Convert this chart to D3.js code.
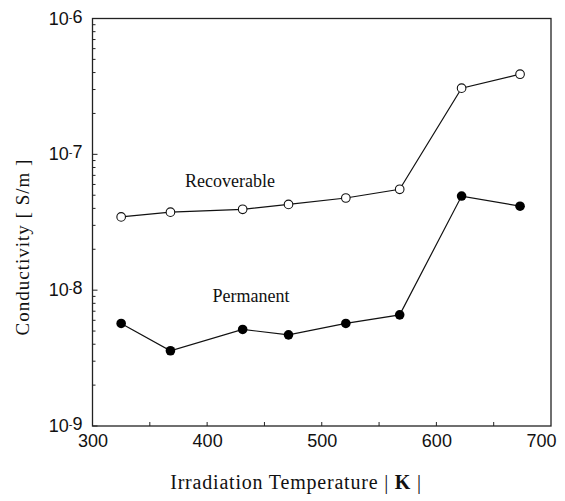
<!DOCTYPE html>
<html>
<head>
<meta charset="utf-8">
<script src="https://cdn.jsdelivr.net/npm/d3@7"></script>
<style>
  html, body { margin: 0; padding: 0; background: #fff; }
  svg { display: block; }
</style>
</head>
<body>
<div id="chart"></div>
<script>
// Irradiation temperature (K)
const temperatures = [325, 368, 431, 471, 521, 568, 622, 673];
// Conductivity (S/m)
const recoverable = [3.46e-8, 3.75e-8, 3.94e-8, 4.28e-8, 4.77e-8, 5.53e-8, 3.07e-7, 3.89e-7];
const permanent   = [5.69e-9, 3.58e-9, 5.14e-9, 4.69e-9, 5.69e-9, 6.58e-9, 4.93e-8, 4.15e-8];
const xTicks = [300, 400, 500, 600, 700];
const yExponents = [-6, -7, -8, -9];
const seriesNames = ["Recoverable", "Permanent"];

const W = 565, H = 501;
const margin = { left: 92.5, right: 14, top: 18.5, bottom: 75 };

const svg = d3.select("#chart").append("svg")
  .attr("width", W).attr("height", H);

const x = d3.scaleLinear().domain([300, 700]).range([margin.left, W - margin.right]);
const y = d3.scaleLog().domain([1e-9, 1e-6]).range([H - margin.bottom, margin.top]);

const x0 = x.range()[0], x1 = x.range()[1];
const y0 = y.range()[0], y1 = y.range()[1];

// Frame
svg.append("rect")
  .attr("x", x0).attr("y", y1)
  .attr("width", x1 - x0).attr("height", y0 - y1)
  .attr("fill", "none").attr("stroke", "#222").attr("stroke-width", 1.3);

// Bottom axis: labels at 100 K, inward ticks every 50 K
const xAxis = svg.append("g").attr("transform", `translate(0,${y0})`)
  .call(d3.axisBottom(x).tickValues(xTicks).tickSize(0).tickPadding(8)
    .tickFormat(d3.format("d")));
xAxis.select(".domain").remove();
xAxis.selectAll("text")
  .attr("font-family", "'Liberation Sans', Arial, sans-serif")
  .attr("font-size", 18).attr("fill", "#111");
// keep the last label inside the page
xAxis.selectAll(".tick").filter(d => d === 700).select("text")
  .attr("text-anchor", "end").attr("dx", 5);

svg.append("g").selectAll("line")
  .data(d3.range(350, 700, 50))
  .join("line")
  .attr("x1", d => x(d)).attr("x2", d => x(d))
  .attr("y1", y0).attr("y2", y0 - 4)
  .attr("stroke", "#222").attr("stroke-width", 1);

// Left axis: decade labels, inward minor ticks
const minor = [];
for (let e = -9; e < -6; e++) {
  for (let m = 1; m <= 9; m++) minor.push(m * Math.pow(10, e));
}
svg.append("g").selectAll("line")
  .data(minor)
  .join("line")
  .attr("x1", x0).attr("x2", d => x0 + (Math.abs(Math.log10(d) - Math.round(Math.log10(d))) < 1e-9 ? 5 : 3))
  .attr("y1", d => y(d)).attr("y2", d => y(d))
  .attr("stroke", "#222").attr("stroke-width", 1);

const yLab = svg.append("g")
  .attr("font-family", "'Liberation Sans', Arial, sans-serif")
  .attr("fill", "#111");
yExponents.forEach(e => {
  const t = yLab.append("text")
    .attr("x", x0 - 10)
    .attr("y", y(Math.pow(10, e)) + 6)
    .attr("text-anchor", "end")
    .attr("font-size", 18);
  t.append("tspan").text("10");
  t.append("tspan").attr("font-size", 11).attr("dy", -4).text("-");
  t.append("tspan").attr("dy", 2).text(String(-e));
});

// Series lines and markers
const line = d3.line().x(d => x(d[0])).y(d => y(d[1]));
const recPts = temperatures.map((t, i) => [t, recoverable[i]]);
const perPts = temperatures.map((t, i) => [t, permanent[i]]);

[recPts, perPts].forEach(pts => {
  svg.append("path").datum(pts)
    .attr("d", line).attr("fill", "none")
    .attr("stroke", "#111").attr("stroke-width", 1.2);
});

svg.append("g").selectAll("circle")
  .data(recPts).join("circle")
  .attr("cx", d => x(d[0])).attr("cy", d => y(d[1])).attr("r", 4.3)
  .attr("fill", "#fff").attr("stroke", "#111").attr("stroke-width", 1.1);

svg.append("g").selectAll("circle")
  .data(perPts).join("circle")
  .attr("cx", d => x(d[0])).attr("cy", d => y(d[1])).attr("r", 4.8)
  .attr("fill", "#000");

// Series labels
const serif = "'Liberation Serif', 'Times New Roman', serif";
svg.append("text")
  .attr("x", 230).attr("y", 187)
  .attr("text-anchor", "middle")
  .attr("font-family", serif).attr("font-size", 18).attr("fill", "#111")
  .text(seriesNames[0]);
svg.append("text")
  .attr("x", 251).attr("y", 302)
  .attr("text-anchor", "middle")
  .attr("font-family", serif).attr("font-size", 18).attr("fill", "#111")
  .text(seriesNames[1]);

// Axis titles
const xt = svg.append("text")
  .attr("x", 296).attr("y", 489)
  .attr("text-anchor", "middle")
  .attr("font-family", serif).attr("font-size", 20)
  .attr("letter-spacing", 0.8).attr("fill", "#111");
xt.append("tspan").text("Irradiation Temperature | ");
xt.append("tspan").attr("font-weight", "bold").text("K");
xt.append("tspan").text(" |");

svg.append("text")
  .attr("transform", "translate(29,247) rotate(-90)")
  .attr("text-anchor", "middle")
  .attr("font-family", serif).attr("font-size", 19)
  .attr("letter-spacing", 1).attr("fill", "#111")
  .text("Conductivity [ S/m ]");
</script>
</body>
</html>
